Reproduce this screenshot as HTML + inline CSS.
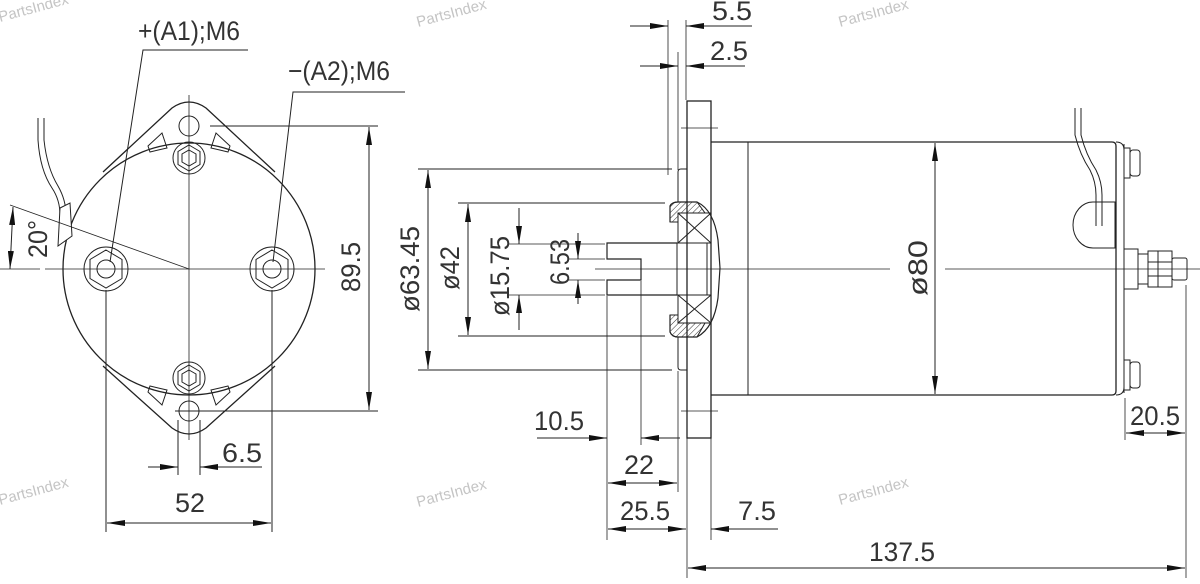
<!DOCTYPE html>
<html><head><meta charset="utf-8"><style>
html,body{margin:0;padding:0;background:#fff;width:1200px;height:584px;overflow:hidden}
svg{display:block}
text{font-family:"Liberation Sans",sans-serif;fill:#333}
.d{font-size:27px}
.w{font-size:15px;fill:#c4c4c4}
</style></head><body>
<svg width="1200" height="584" viewBox="0 0 1200 584" xmlns="http://www.w3.org/2000/svg">
<defs>
<marker id="a" viewBox="0 0 18 6" refX="18" refY="3" markerWidth="18" markerHeight="6" markerUnits="userSpaceOnUse" orient="auto-start-reverse"><path d="M0,0 L18,3 L0,6z" fill="#111"/></marker>
<pattern id="h" width="4" height="4" patternUnits="userSpaceOnUse" patternTransform="rotate(45)"><line x1="0" y1="0" x2="0" y2="4" stroke="#333" stroke-width="1"/></pattern>
</defs>
<g stroke="#222" stroke-width="1" fill="none">
<!-- ===== LEFT VIEW ===== -->
<circle cx="189" cy="269" r="126" stroke-width="1.3"/>
<path d="M103,172 L172,108 Q189,96 206,108 L275,172" stroke-width="1.3"/>
<path d="M103,366 L172,428 Q189,440 206,428 L275,366" stroke-width="1.3"/>
<circle cx="189" cy="126" r="10"/><circle cx="189" cy="411" r="10"/>
<path d="M148,146 L162,133 L167,148 Q158,150 150,152z"/>
<path d="M230,146 L216,133 L211,148 Q220,150 228,152z"/>
<path d="M148,392 L162,405 L167,390 Q158,388 150,386z"/>
<path d="M230,392 L216,405 L211,390 Q220,388 228,386z"/>
<!-- studs -->
<circle cx="189" cy="158" r="16"/><polygon points="189,145 200,151.5 200,164.5 189,171 178,164.5 178,151.5"/><polygon points="189,150 196,154 196,162 189,166 182,162 182,154"/>
<circle cx="189" cy="378" r="16"/><polygon points="189,365 200,371.5 200,384.5 189,391 178,384.5 178,371.5"/><polygon points="189,370 196,374 196,382 189,386 182,382 182,374"/>
<circle cx="106" cy="269" r="22"/><polygon points="106,250 122,259.5 122,278.5 106,288 90,278.5 90,259.5"/><circle cx="106" cy="269" r="9"/>
<circle cx="272" cy="269" r="22"/><polygon points="272,250 288,259.5 288,278.5 272,288 256,278.5 256,259.5"/><circle cx="272" cy="269" r="9"/>
<!-- wire left -->
<path d="M38,118 L38,140 Q40,170 52,188 Q60,200 60,215 L60,232"/>
<path d="M44,118 L44,140 Q47,168 58,186 Q66,200 66,215 L66,230"/>
<path d="M58,246 L60,208 L70,203 L72,236z" fill="#fff"/>
<!-- centerlines -->
<line x1="189" y1="95" x2="189" y2="440" stroke-width=".8"/>
<line x1="45" y1="269" x2="325" y2="269" stroke-width=".8"/>
<line x1="0" y1="269" x2="40" y2="269" stroke-width=".8"/>
<line x1="189" y1="269" x2="10" y2="205" stroke-width=".8"/>
<path d="M13,207 L10,269" marker-start="url(#a)" marker-end="url(#a)"/>
<!-- 89.5 -->
<line x1="210" y1="126" x2="378" y2="126"/><line x1="175" y1="411" x2="378" y2="411"/>
<line x1="369" y1="127" x2="369" y2="410" marker-start="url(#a)" marker-end="url(#a)"/>
<!-- 52 -->
<line x1="106" y1="290" x2="106" y2="532"/><line x1="272" y1="290" x2="272" y2="532"/>
<line x1="107" y1="523" x2="271" y2="523" marker-start="url(#a)" marker-end="url(#a)"/>
<!-- 6.5 -->
<line x1="178" y1="420" x2="178" y2="475"/><line x1="200" y1="420" x2="200" y2="475"/>
<line x1="148" y1="467" x2="178" y2="467" marker-end="url(#a)"/>
<line x1="262" y1="467" x2="200" y2="467" marker-end="url(#a)"/>
<!-- leaders -->
<polyline points="248,50 143,50 110,262"/>
<polyline points="405,92 293,92 273,262"/>

<!-- ===== SIDE VIEW ===== -->
<rect x="687" y="101" width="24" height="337" stroke-width="1.3"/>
<line x1="681" y1="128" x2="718" y2="128" stroke-width=".8"/><line x1="681" y1="411" x2="718" y2="411" stroke-width=".8"/>
<path d="M687,169 L681,169 Q678,169 678,172 L678,202 M678,337 L678,367 Q678,370 681,370 L687,370"/>
<path d="M711,142 L1112,142 Q1116,142 1116,146 L1116,391 Q1116,395 1112,395 L711,395" stroke-width="1.3"/>
<line x1="748" y1="142" x2="748" y2="395"/>
<!-- bearing cap -->
<path d="M670,222 L670,206 Q672,202 678,202 L697,202 Q714,210 718,240 L720,268 L718,298 Q714,328 697,337 L678,337 Q672,337 670,332 L670,315" stroke-width="1.2"/>
<path d="M670,222 L670,206 Q672,202 678,202 L697,202 L705,213 L678,213 L678,222z" fill="url(#h)"/>
<path d="M670,315 L670,332 Q672,337 678,337 L697,337 L705,323 L678,323 L678,315z" fill="url(#h)"/>
<rect x="678" y="213" width="33" height="30"/><path d="M678,213 L711,243 M711,213 L678,243"/>
<rect x="678" y="295" width="33" height="28"/><path d="M678,295 L711,323 M711,295 L678,323"/>
<rect x="677" y="243" width="34" height="52"/><line x1="707" y1="243" x2="707" y2="295"/>
<!-- shaft -->
<path d="M677,243 L607,243 L607,259 L641,259 L641,280 L607,280 L607,295 L677,295" stroke-width="1.2"/>
<!-- end -->
<line x1="1124" y1="144" x2="1124" y2="393"/>
<path d="M1116,142 Q1124,142 1124,150 M1116,395 Q1124,395 1124,387"/>
<rect x="1124" y="148" width="6" height="30"/><rect x="1130" y="150" width="10" height="26" rx="3"/>
<rect x="1124" y="360" width="6" height="30"/><rect x="1130" y="362" width="10" height="26" rx="3"/>
<rect x="1124" y="249" width="14" height="40"/>
<rect x="1138" y="254" width="10" height="30"/><rect x="1148" y="251" width="10" height="36"/><rect x="1158" y="251" width="14" height="36"/>
<line x1="1148" y1="262" x2="1172" y2="262"/><line x1="1148" y1="276" x2="1172" y2="276"/>
<rect x="1172" y="258" width="15" height="22" rx="2"/>
<path d="M1093,202 L1115,202 L1115,248 L1093,248 A20,23 0 0 1 1093,202z" fill="#fff"/>
<path d="M1075,108 L1075,135 Q1080,155 1090,170 Q1096,182 1096,195 L1096,226" />
<path d="M1081,108 L1081,135 Q1086,155 1096,170 Q1102,182 1102,195 L1102,226" />
<!-- centerlines -->
<line x1="595" y1="269" x2="890" y2="269" stroke-width=".8"/><line x1="945" y1="269" x2="1200" y2="269" stroke-width=".8"/>
<!-- 5.5 / 2.5 -->
<line x1="668" y1="20" x2="668" y2="175" stroke-width=".8"/><line x1="678" y1="52" x2="678" y2="170" stroke-width=".8"/><line x1="686" y1="20" x2="686" y2="100" stroke-width=".8"/>
<line x1="630" y1="26" x2="668" y2="26" marker-end="url(#a)"/><line x1="752" y1="26" x2="686" y2="26" marker-end="url(#a)"/>
<line x1="640" y1="66" x2="678" y2="66" marker-end="url(#a)"/><line x1="745" y1="66" x2="686" y2="66" marker-end="url(#a)"/>
<!-- diameters -->
<line x1="418" y1="169" x2="672" y2="169"/><line x1="418" y1="370" x2="672" y2="370"/>
<line x1="428" y1="170" x2="428" y2="369" marker-start="url(#a)" marker-end="url(#a)"/>
<line x1="458" y1="203" x2="665" y2="203"/><line x1="458" y1="336" x2="665" y2="336"/>
<line x1="468" y1="204" x2="468" y2="335" marker-start="url(#a)" marker-end="url(#a)"/>
<line x1="508" y1="244" x2="605" y2="244" stroke-width=".8"/><line x1="508" y1="295" x2="605" y2="295" stroke-width=".8"/>
<line x1="519" y1="208" x2="519" y2="244" marker-end="url(#a)"/><line x1="519" y1="330" x2="519" y2="295" marker-end="url(#a)"/>
<line x1="568" y1="259" x2="605" y2="259" stroke-width=".8"/><line x1="568" y1="280" x2="605" y2="280" stroke-width=".8"/>
<line x1="578" y1="233" x2="578" y2="259" marker-end="url(#a)"/><line x1="578" y1="304" x2="578" y2="280" marker-end="url(#a)"/>
<!-- bottom dims -->
<line x1="607" y1="296" x2="607" y2="540" stroke-width=".8"/><line x1="641" y1="281" x2="641" y2="445" stroke-width=".8"/>
<line x1="678" y1="371" x2="678" y2="492" stroke-width=".8"/><line x1="687" y1="438" x2="687" y2="578" stroke-width=".8"/><line x1="711" y1="438" x2="711" y2="540" stroke-width=".8"/>
<line x1="537" y1="438" x2="607" y2="438" marker-end="url(#a)"/><line x1="680" y1="438" x2="641" y2="438" marker-end="url(#a)"/>
<line x1="608" y1="483" x2="677" y2="483" marker-start="url(#a)" marker-end="url(#a)"/>
<line x1="608" y1="529" x2="686" y2="529" marker-start="url(#a)" marker-end="url(#a)"/>
<line x1="778" y1="529" x2="711" y2="529" marker-end="url(#a)"/>
<line x1="1186" y1="285" x2="1186" y2="578" stroke-width=".8"/><line x1="1125" y1="398" x2="1125" y2="440" stroke-width=".8"/>
<line x1="688" y1="568" x2="1185" y2="568" marker-start="url(#a)" marker-end="url(#a)"/>
<line x1="1126" y1="433" x2="1185" y2="433" marker-start="url(#a)" marker-end="url(#a)"/>
<line x1="935" y1="143" x2="935" y2="394" marker-start="url(#a)" marker-end="url(#a)"/>
</g>
<!-- texts -->
<text class="d" x="138" y="40" textLength="102" lengthAdjust="spacingAndGlyphs">+(A1);M6</text>
<text class="d" x="288" y="80" textLength="102" lengthAdjust="spacingAndGlyphs">−(A2);M6</text>
<text class="d" transform="translate(47,258) rotate(-90)" textLength="38" lengthAdjust="spacingAndGlyphs">20°</text>
<text class="d" transform="translate(360,292) rotate(-90)" textLength="50" lengthAdjust="spacingAndGlyphs">89.5</text>
<text class="d" x="175" y="512" textLength="30" lengthAdjust="spacingAndGlyphs">52</text>
<text class="d" x="222" y="462" textLength="40" lengthAdjust="spacingAndGlyphs">6.5</text>
<text class="d" x="712" y="20" textLength="40" lengthAdjust="spacingAndGlyphs">5.5</text>
<text class="d" x="710" y="60" textLength="38" lengthAdjust="spacingAndGlyphs">2.5</text>
<text class="d" transform="translate(419,312) rotate(-90)" textLength="86" lengthAdjust="spacingAndGlyphs">ø63.45</text>
<text class="d" transform="translate(459,290) rotate(-90)" textLength="44" lengthAdjust="spacingAndGlyphs">ø42</text>
<text class="d" transform="translate(509,316) rotate(-90)" textLength="80" lengthAdjust="spacingAndGlyphs">ø15.75</text>
<text class="d" transform="translate(569,285) rotate(-90)" textLength="46" lengthAdjust="spacingAndGlyphs">6.53</text>
<text class="d" transform="translate(927,296) rotate(-90)" textLength="56" lengthAdjust="spacingAndGlyphs">ø80</text>
<text class="d" x="534" y="430" textLength="50" lengthAdjust="spacingAndGlyphs">10.5</text>
<text class="d" x="624" y="474" textLength="30" lengthAdjust="spacingAndGlyphs">22</text>
<text class="d" x="620" y="520" textLength="50" lengthAdjust="spacingAndGlyphs">25.5</text>
<text class="d" x="738" y="520" textLength="38" lengthAdjust="spacingAndGlyphs">7.5</text>
<text class="d" x="869" y="561" textLength="66" lengthAdjust="spacingAndGlyphs">137.5</text>
<text class="d" x="1130" y="425" textLength="50" lengthAdjust="spacingAndGlyphs">20.5</text>
<!-- watermarks -->
<text class="w" transform="translate(0,22) rotate(-15)">PartsIndex</text>
<text class="w" transform="translate(418,27) rotate(-15)">PartsIndex</text>
<text class="w" transform="translate(840,27) rotate(-15)">PartsIndex</text>
<text class="w" transform="translate(0,505) rotate(-15)">PartsIndex</text>
<text class="w" transform="translate(418,507) rotate(-15)">PartsIndex</text>
<text class="w" transform="translate(840,505) rotate(-15)">PartsIndex</text>
</svg>
</body></html>
